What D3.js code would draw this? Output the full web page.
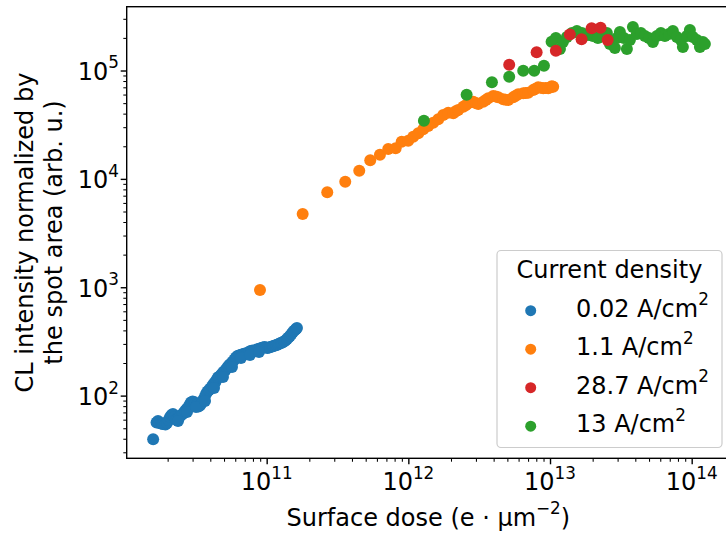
<!DOCTYPE html>
<html><head><meta charset="utf-8">
<script src="https://cdn.jsdelivr.net/npm/d3@7"></script>
<style>
body{margin:0;background:#fff}
svg{display:block;font-family:"DejaVu Sans",sans-serif}
</style>
</head><body>
<svg id="chart" width="726" height="534"></svg>
<script>
// ---------- data ----------
const seriesNames = ["0.02 A/cm", "1.1 A/cm", "28.7 A/cm", "13 A/cm"];
const seriesColors = ["#1f77b4", "#ff7f0e", "#d62728", "#2ca02c"];

const blueX = [1.58e10,1.67e10,1.71e10,1.75e10,1.80e10,1.84e10,1.88e10,1.93e10,1.98e10,2.03e10,
  2.08e10,2.13e10,2.18e10,2.24e10,2.29e10,2.35e10,2.41e10,2.47e10,2.53e10,2.59e10,
  2.65e10,2.72e10,2.78e10,2.85e10,2.92e10,3.00e10,3.07e10,3.15e10,3.22e10,3.30e10,
  3.38e10,3.47e10,3.55e10,3.64e10,3.73e10,3.82e10,3.92e10,4.01e10,4.11e10,4.21e10,
  4.32e10,4.42e10,4.53e10,4.64e10,4.76e10,4.88e10,5.00e10,5.12e10,5.25e10,5.37e10,
  5.51e10,5.64e10,5.78e10,5.93e10,6.07e10,6.22e10,6.38e10,6.53e10,6.69e10,6.86e10,
  7.03e10,7.20e10,7.38e10,7.56e10,7.75e10,7.94e10,8.14e10,8.34e10,8.54e10,8.75e10,
  8.97e10,9.19e10,9.42e10,9.65e10,9.89e10,1.013e11,1.038e11,1.064e11,1.090e11,1.117e11,
  1.145e11,1.173e11,1.202e11,1.231e11,1.261e11,1.293e11,1.325e11,1.357e11,1.391e11,1.425e11,
  1.460e11,1.496e11,1.533e11,1.571e11,1.610e11,1.636e11,
  2.366e10,2.739e10,3.17e10,3.67e10,4.25e10,4.915e10,5.69e10,6.585e10,7.62e10,8.825e10];
const blueY = [39.6,56.6,58.4,56.0,55.4,54.8,55.4,54.2,56.0,59.7,
  63.6,66.4,67.8,63.6,60.3,61.0,62.9,65.7,67.1,69.2,
  72.3,75.4,77.0,82.1,86.6,88.4,87.5,84.7,82.1,79.5,
  81.2,85.6,90.3,96.2,103.7,109.3,112.9,116.5,121.6,128.2,
  132.4,139.6,147.2,150.4,155.2,162.0,167.2,172.7,180.1,187.9,
  194.0,200.3,206.8,215.8,225.1,232.4,234.9,237.5,240.0,242.6,
  245.2,242.6,247.8,255.8,258.5,261.2,258.5,261.2,266.8,269.7,
  272.5,275.4,278.4,281.4,278.4,275.4,278.4,281.4,284.4,287.4,
  290.5,293.6,296.8,303.1,306.4,309.7,316.2,323.0,333.5,344.3,
  355.4,370.9,386.9,399.5,412.4,421.3,
  58.4,70.7,78.7,89.4,117.8,148.8,184.0,222.7,237.5,253.0];

const orangeX = [8.97e10,1.795e11,2.677e11,3.586e11,4.503e11,5.384e11,6.303e11,7.215e11,8.137e11,8.97e11,
  9.98e11,1.083e12,1.175e12,1.274e12,1.382e12,1.498e12,1.626e12,1.763e12,1.912e12,2.075e12,
  2.16e12,2.25e12,2.441e12,2.54e12,2.647e12,2.871e12,2.99e12,3.114e12,3.378e12,3.52e12,
  3.664e12,3.974e12,4.14e12,4.31e12,4.673e12,4.87e12,5.07e12,5.5e12,5.73e12,5.965e12,
  6.47e12,6.74e12,7.018e12,7.61e12,7.9e12,8.255e12,8.6e12,8.954e12,9.33e12,9.71e12,
  1.01e13,1.03e13,1.053e13];
const orangeY = [944,4742,7521,9424,11900,14840,16720,18870,19150,22040,
  22510,24510,26340,28680,30760,32990,35460,38850,40800,40290,
  42000,43210,46340,47800,49820,51550,50100,49080,51550,53500,
  55400,58160,57600,56570,54230,53800,53420,56570,58500,60320,
  61610,62000,62400,66100,67800,69980,69300,68520,69000,68520,
  70000,71500,70880];

const greenX = [1.288e12,2.579e12,3.89e12,5.152e12,6.47e12,7.737e12,9.06e12,
  1.026e13,1.100e13,1.175e13,1.233e13,1.316e13,1.428e13,1.548e13,1.680e13,1.851e13,2.008e13,
  2.178e13,2.362e13,2.521e13,2.647e13,2.871e13,2.966e13,3.114e13,3.323e13,3.489e13,3.664e13,
  3.847e13,4.105e13,4.380e13,4.674e13,4.989e13,5.323e13,5.681e13,6.062e13,6.470e13,6.905e13,
  7.368e13,7.863e13,8.391e13,8.668e13,9.250e13,9.712e13,1.020e14,1.088e14,1.143e14,1.200e14,1.239e14];
const greenY = [34430,59790,77840,87660,99560,99560,110700,
  184400,199400,157900,183200,203700,221800,231400,221800,212500,208100,
  199400,217100,221800,175500,161300,199400,226500,199400,157900,191100,
  251900,217100,221800,208100,199400,183200,208100,221800,208100,217100,
  231400,203700,191100,164800,208100,236400,203700,191100,164800,183200,175500];

const redX = [5.152e12,8.045e12,1.10e13,1.38e13,1.67e13,1.966e13,2.275e13,2.55e13];
const redY = [113100,147200,152300,214400,194000,245100,248200,191100];

const xMajor = [1e11, 1e12, 1e13, 1e14];
const xMajorExp = ["11", "12", "13", "14"];
const yMajor = [1e2, 1e3, 1e4, 1e5];
const yMajorExp = ["2", "3", "4", "5"];

// ---------- layout ----------
const svg = d3.select("#chart");
const L = 126.7, R = 730, T = 6.7, B = 458.3;
const FS = 24, SFS = 16.8;

const x = d3.scaleLog().domain([1.028e10, 1.864e14]).range([L, R]);
const y = d3.scaleLog().domain([26.4, 3.88e5]).range([B, T]);

function minorTicks(scale) {
  const [a, b] = scale.domain();
  const out = [];
  for (let e = Math.floor(Math.log10(a)); e <= Math.ceil(Math.log10(b)); e++) {
    for (let m = 2; m <= 9; m++) {
      const v = m * Math.pow(10, e);
      if (v >= a && v <= b) out.push(v);
    }
  }
  return out;
}

svg.append("rect").attr("width", 726).attr("height", 534).attr("fill", "#fff");

svg.append("clipPath").attr("id", "clip").append("rect")
  .attr("x", L).attr("y", T).attr("width", R - L).attr("height", B - T);

const data = svg.append("g").attr("clip-path", "url(#clip)");
function drawSeries(xs, ys, color) {
  data.append("g").selectAll("circle").data(xs.map((v, i) => [v, ys[i]])).join("circle")
    .attr("cx", d => x(d[0])).attr("cy", d => y(d[1])).attr("r", 6).attr("fill", color);
}
drawSeries(blueX, blueY, seriesColors[0]);
drawSeries(orangeX, orangeY, seriesColors[1]);
drawSeries(greenX, greenY, seriesColors[3]);
drawSeries(redX, redY, seriesColors[2]);

function styleAxis(g, w) {
  g.select(".domain").remove();
  g.selectAll("line").attr("stroke", "#000").attr("stroke-width", w);
  g.selectAll("text").remove();
}
svg.append("g").attr("transform", `translate(0,${B})`)
  .call(d3.axisBottom(x).tickValues(xMajor).tickSize(6).tickFormat(""))
  .call(g => styleAxis(g, 1.4));
svg.append("g").attr("transform", `translate(0,${B})`)
  .call(d3.axisBottom(x).tickValues(minorTicks(x)).tickSize(3.4).tickFormat(""))
  .call(g => styleAxis(g, 1.05));
svg.append("g").attr("transform", `translate(${L},0)`)
  .call(d3.axisLeft(y).tickValues(yMajor).tickSize(6).tickFormat(""))
  .call(g => styleAxis(g, 1.4));
svg.append("g").attr("transform", `translate(${L},0)`)
  .call(d3.axisLeft(y).tickValues(minorTicks(y)).tickSize(3.4).tickFormat(""))
  .call(g => styleAxis(g, 1.05));

svg.append("rect").attr("x", L).attr("y", T).attr("width", R - L).attr("height", B - T)
  .attr("fill", "none").attr("stroke", "#000").attr("stroke-width", 1.4);

function supText(parent, px, py, base, sup, anchor, size, supSize, rise) {
  const t = parent.append("text").attr("x", px).attr("y", py)
    .attr("text-anchor", anchor).attr("font-size", size).attr("fill", "#000");
  t.append("tspan").text(base);
  t.append("tspan").attr("font-size", supSize).attr("dy", -rise).text(sup);
  return t;
}

xMajor.forEach((v, i) => supText(svg, x(v), 490.3, "10", xMajorExp[i], "middle", FS, SFS, 11.6));
yMajor.forEach((v, i) => supText(svg, 119, y(v) + 9.5, "10", yMajorExp[i], "end", FS, SFS, 11.6));

const xt = svg.append("text").attr("x", (L + R) / 2).attr("y", 526)
  .attr("text-anchor", "middle").attr("font-size", FS);
xt.append("tspan").text("Surface dose (e \u00b7 \u00b5m");
xt.append("tspan").attr("font-size", SFS).attr("dy", -11.6).text("\u22122");
xt.append("tspan").attr("dy", 11.6).text(")");

const yt = svg.append("g").attr("transform", `translate(0,${(T + B) / 2}) rotate(-90)`);
yt.append("text").attr("x", 0).attr("y", 33).attr("text-anchor", "middle").attr("font-size", FS)
  .text("CL intensity normalized by");
yt.append("text").attr("x", 0).attr("y", 62).attr("text-anchor", "middle").attr("font-size", FS)
  .text("the spot area (arb. u.)");

const lg = svg.append("g");
lg.append("rect").attr("x", 497).attr("y", 250.5).attr("width", 225).attr("height", 197)
  .attr("rx", 4).attr("fill", "#fff").attr("fill-opacity", 0.8)
  .attr("stroke", "#cccccc").attr("stroke-width", 1.2);
lg.append("text").attr("x", 609.5).attr("y", 278).attr("text-anchor", "middle")
  .attr("font-size", FS).text("Current density");
const legendOrder = [0, 1, 2, 3];
legendOrder.forEach((k, i) => {
  const cy = 310.7 + i * 38.5;
  lg.append("circle").attr("cx", 530.7).attr("cy", cy).attr("r", 5.5).attr("fill", seriesColors[k]);
  supText(lg, 576, cy + 6, seriesNames[k], "2", "start", FS, SFS, 11.6);
});
</script>
</body></html>
